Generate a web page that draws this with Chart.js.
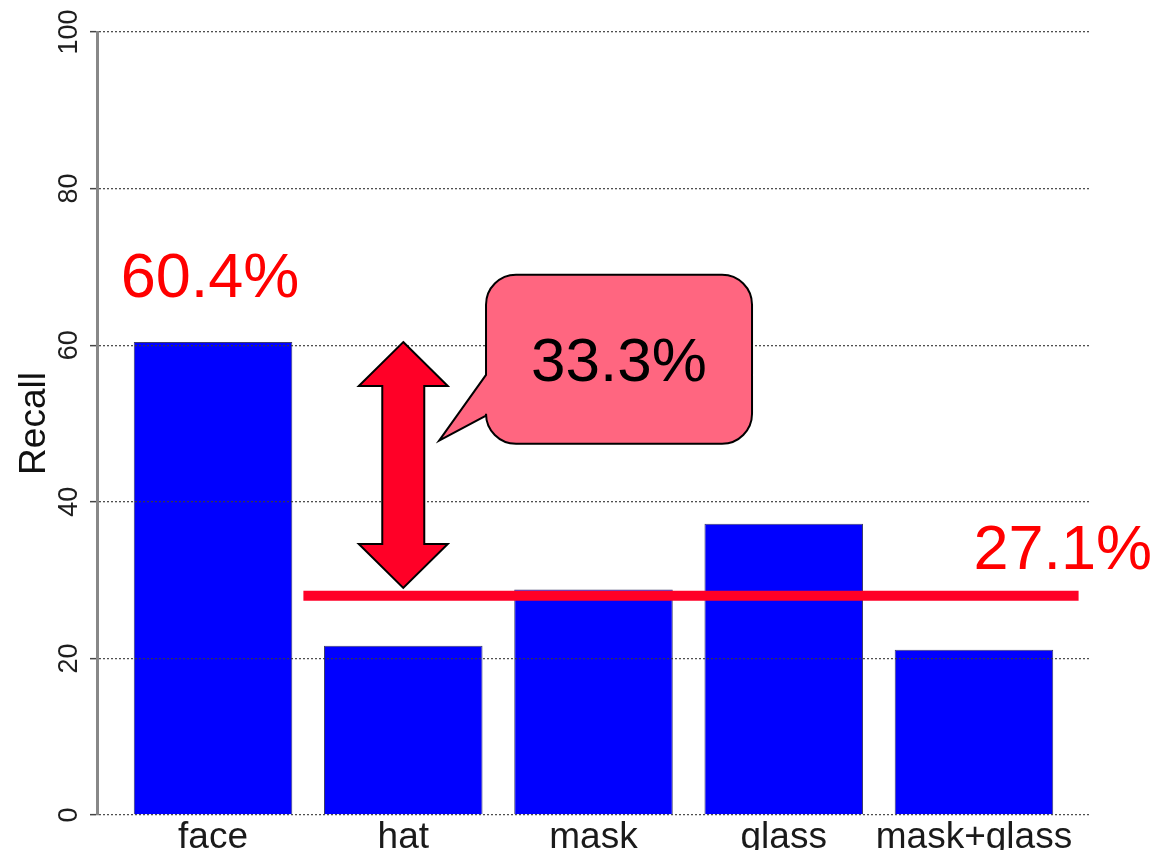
<!DOCTYPE html>
<html>
<head>
<meta charset="utf-8">
<script src="https://cdn.jsdelivr.net/npm/chart.js@4/dist/chart.umd.min.js"></script>
<style>
html,body{margin:0;padding:0;background:#fff;overflow:hidden}
#wrap{width:1157px;height:850px;position:relative}
</style>
</head>
<body>
<div id="wrap"><canvas id="c" width="1157" height="850"></canvas></div>
<script>
// ---- data ----
const categories = ['face', 'hat', 'mask', 'glass', 'mask+glass'];
const barPositions = [0.7, 1.9, 3.1, 4.3, 5.5];
const recall = [60.4, 21.6, 28.8, 37.2, 21.1];
const yTicks = [0, 20, 40, 60, 80, 100];
const averageValue = 28.0;
const averageLabel = '27.1%';
const faceLabel = '60.4%';
const gapLabel = '33.3%';
const arrowRange = [60.4, 29.0];

const FONT = "'Liberation Sans', Arial, Helvetica, sans-serif";

// annotation geometry in data units (x: bar-position units, y: recall)
const ann = {
  lineX: [1.27, 6.16],
  box: {x0: 2.422, x1: 4.10, yTop: 69.0, yBot: 47.4, r: 30},
  tail: {tipX: 2.126, tipY: 47.8, baseTop: 56.2, baseBot: 51.0},
  avgLabelRight: 6.624
};

const annotationPlugin = {
  id: 'annotations',
  afterDraw(chart) {
    const ctx = chart.ctx;
    const xs = chart.scales.x, ys = chart.scales.y;
    ctx.save();

    // 60.4% label above face bar
    ctx.font = '63px ' + FONT;
    ctx.fillStyle = '#FF0000';
    ctx.textAlign = 'center';
    ctx.textBaseline = 'alphabetic';
    ctx.fillText(faceLabel, xs.getPixelForValue(barPositions[0]) - 3, ys.getPixelForValue(recall[0]) - 45);

    // double arrow at the hat bar
    const cx = xs.getPixelForValue(barPositions[1]);
    const yT = ys.getPixelForValue(arrowRange[0]);
    const yB = ys.getPixelForValue(arrowRange[1]);
    const hh = 44.5, hl = 44, sh = 21;
    ctx.beginPath();
    ctx.moveTo(cx, yT);
    ctx.lineTo(cx + hh, yT + hl);
    ctx.lineTo(cx + sh, yT + hl);
    ctx.lineTo(cx + sh, yB - hl);
    ctx.lineTo(cx + hh, yB - hl);
    ctx.lineTo(cx, yB);
    ctx.lineTo(cx - hh, yB - hl);
    ctx.lineTo(cx - sh, yB - hl);
    ctx.lineTo(cx - sh, yT + hl);
    ctx.lineTo(cx - hh, yT + hl);
    ctx.closePath();
    ctx.fillStyle = '#FF0027';
    ctx.fill();
    ctx.lineWidth = 2;
    ctx.lineJoin = 'miter';
    ctx.strokeStyle = '#000';
    ctx.stroke();

    // average line
    const ay = ys.getPixelForValue(averageValue);
    ctx.beginPath();
    ctx.moveTo(xs.getPixelForValue(ann.lineX[0]), ay);
    ctx.lineTo(xs.getPixelForValue(ann.lineX[1]), ay);
    ctx.lineWidth = 10;
    ctx.lineCap = 'butt';
    ctx.strokeStyle = '#FF0027';
    ctx.stroke();

    // 27.1% label
    ctx.font = '63px ' + FONT;
    ctx.fillStyle = '#FF0000';
    ctx.textAlign = 'right';
    ctx.fillText(averageLabel, xs.getPixelForValue(ann.avgLabelRight), ay - 27);

    // callout
    const L = xs.getPixelForValue(ann.box.x0), R = xs.getPixelForValue(ann.box.x1);
    const T = ys.getPixelForValue(ann.box.yTop), B = ys.getPixelForValue(ann.box.yBot);
    const r = ann.box.r;
    const tx = xs.getPixelForValue(ann.tail.tipX), ty = ys.getPixelForValue(ann.tail.tipY);
    const bt = ys.getPixelForValue(ann.tail.baseTop), bb = ys.getPixelForValue(ann.tail.baseBot);
    ctx.beginPath();
    ctx.moveTo(L + r, T);
    ctx.lineTo(R - r, T);
    ctx.arcTo(R, T, R, T + r, r);
    ctx.lineTo(R, B - r);
    ctx.arcTo(R, B, R - r, B, r);
    ctx.lineTo(L + r, B);
    ctx.arcTo(L, B, L, B - r, r);
    ctx.lineTo(L, bb);
    ctx.lineTo(tx, ty);
    ctx.lineTo(L, bt);
    ctx.lineTo(L, T + r);
    ctx.arcTo(L, T, L + r, T, r);
    ctx.closePath();
    ctx.fillStyle = '#FF6680';
    ctx.fill();
    ctx.lineWidth = 2;
    ctx.strokeStyle = '#000';
    ctx.stroke();

    ctx.font = '62px ' + FONT;
    ctx.fillStyle = '#000';
    ctx.textAlign = 'center';
    ctx.textBaseline = 'alphabetic';
    ctx.fillText(gapLabel, (L + R) / 2, (T + B) / 2 + 22);

    ctx.restore();
  }
};

new Chart(document.getElementById('c'), {
  type: 'bar',
  data: {
    datasets: [{
      data: barPositions.map((x, i) => ({x: x, y: recall[i]})),
      backgroundColor: '#0000FF',
      borderColor: 'rgba(40,40,90,0.9)',
      borderWidth: 1,
      categoryPercentage: 1,
      barPercentage: 1 / 1.2
    }]
  },
  options: {
    responsive: false,
    animation: false,
    devicePixelRatio: 1,
    layout: {padding: {top: 32, right: 67, left: 0, bottom: 0}},
    plugins: {legend: {display: false}, tooltip: {enabled: false}},
    scales: {
      x: {
        type: 'linear',
        offset: false,
        bounds: 'data',
        min: -0.032,
        max: 6.232,
        afterBuildTicks: s => { s.ticks = barPositions.map(v => ({value: v})); },
        afterFit: s => { s.height = 35; },
        ticks: {
          autoSkip: false,
          maxRotation: 0,
          padding: 0,
          color: '#1a1a1a',
          font: {size: 37, family: FONT, lineHeight: 0.8},
          callback: (v, i) => categories[i]
        },
        grid: {display: false, offset: false},
        border: {display: false}
      },
      y: {
        min: 0,
        max: 100,
        afterBuildTicks: s => { s.ticks = yTicks.map(v => ({value: v})); },
        afterFit: s => { s.width = 97; },
        ticks: {
          minRotation: 90,
          maxRotation: 90,
          crossAlign: 'center',
          padding: -2,
          color: '#1e1e1e',
          font: {size: 27, family: FONT}
        },
        grid: {
          z: 1,
          color: 'rgba(60,60,60,0.9)',
          lineWidth: 1.3,
          tickLength: 7,
          tickColor: '#444',
          tickWidth: 1.5
        },
        border: {display: true, z: 2, color: '#888', width: 3, dash: [2, 2]},
        title: {
          display: true,
          text: 'Recall',
          color: '#111',
          font: {size: 37, family: FONT},
          padding: {top: 13, bottom: 0}
        }
      }
    }
  },
  plugins: [annotationPlugin]
});
</script>
</body>
</html>
